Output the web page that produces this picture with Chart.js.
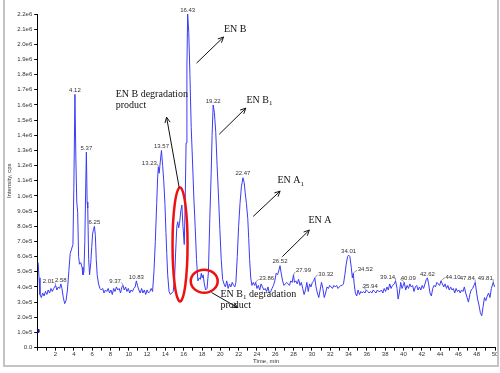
<!DOCTYPE html>
<html>
<head>
<meta charset="UTF-8">
<title>Chromatogram</title>
<script src="https://cdn.jsdelivr.net/npm/chart.js"></script>
<style>
  html, body { margin: 0; padding: 0; background: #fff; }
  canvas { display: block; }
</style>
</head>
<body>
<canvas id="chrom" width="500" height="373"></canvas>
<script>
// retention time (min) and intensity (x1e5 cps)
const times = [
  0.10, 0.20, 0.30, 0.45, 0.60, 0.75, 0.90, 1.05, 1.20, 1.35,
  1.50, 1.65, 1.80, 2.01, 2.15, 2.30, 2.45, 2.58, 2.70, 2.85,
  3.00, 3.15, 3.30, 3.45, 3.60, 3.75, 3.90, 4.00, 4.12, 4.22,
  4.32, 4.42, 4.52, 4.62, 4.75, 4.90, 5.00, 5.10, 5.20, 5.28,
  5.37, 5.45, 5.52, 5.62, 5.72, 5.85, 5.95, 6.05, 6.15, 6.25,
  6.35, 6.45, 6.55, 6.70, 6.85, 7.00, 7.15, 7.30, 7.45, 7.60,
  7.75, 7.90, 8.05, 8.20, 8.35, 8.50, 8.65, 8.80, 8.95, 9.10,
  9.25, 9.37, 9.50, 9.65, 9.80, 9.95, 10.10, 10.25, 10.40, 10.55,
  10.70, 10.83, 10.95, 11.10, 11.25, 11.40, 11.55, 11.70, 11.85, 12.00,
  12.15, 12.30, 12.45, 12.60, 12.75, 12.90, 13.05, 13.15, 13.23, 13.32,
  13.45, 13.57, 13.70, 13.82, 13.95, 14.06, 14.15, 14.25, 14.40, 14.55,
  14.70, 14.85, 15.00, 15.12, 15.25, 15.35, 15.45, 15.55, 15.68, 15.80,
  15.92, 16.06, 16.16, 16.26, 16.35, 16.43, 16.55, 16.68, 16.82, 16.95,
  17.10, 17.25, 17.40, 17.55, 17.70, 17.82, 17.92, 18.02, 18.12, 18.25,
  18.40, 18.55, 18.70, 18.85, 19.00, 19.10, 19.22, 19.35, 19.50, 19.65,
  19.80, 19.95, 20.10, 20.25, 20.40, 20.55, 20.70, 20.85, 21.00, 21.15,
  21.30, 21.45, 21.58, 21.70, 21.85, 22.00, 22.15, 22.30, 22.47, 22.60,
  22.72, 22.85, 23.00, 23.10, 23.20, 23.32, 23.45, 23.60, 23.75, 23.86,
  24.00, 24.15, 24.30, 24.45, 24.60, 24.75, 24.90, 25.05, 25.20, 25.35,
  25.50, 25.65, 25.80, 25.95, 26.10, 26.25, 26.40, 26.52, 26.65, 26.80,
  26.95, 27.10, 27.25, 27.40, 27.55, 27.70, 27.85, 27.99, 28.10, 28.25,
  28.40, 28.55, 28.70, 28.85, 29.00, 29.15, 29.30, 29.45, 29.60, 29.75,
  29.90, 30.05, 30.20, 30.32, 30.45, 30.60, 30.75, 30.90, 31.05, 31.20,
  31.35, 31.50, 31.65, 31.80, 31.95, 32.10, 32.25, 32.40, 32.55, 32.70,
  32.85, 33.00, 33.15, 33.30, 33.45, 33.60, 33.75, 33.90, 34.01, 34.15,
  34.30, 34.42, 34.52, 34.62, 34.75, 34.90, 35.05, 35.20, 35.35, 35.50,
  35.65, 35.80, 35.94, 36.10, 36.25, 36.40, 36.55, 36.70, 36.85, 37.00,
  37.15, 37.30, 37.45, 37.60, 37.75, 37.90, 38.05, 38.20, 38.35, 38.50,
  38.65, 38.80, 39.00, 39.14, 39.30, 39.42, 39.55, 39.70, 39.85, 40.09,
  40.25, 40.40, 40.55, 40.70, 40.85, 41.00, 41.15, 41.30, 41.45, 41.60,
  41.75, 41.90, 42.05, 42.20, 42.35, 42.50, 42.62, 42.75, 42.90, 43.05,
  43.20, 43.35, 43.50, 43.65, 43.80, 43.95, 44.10, 44.25, 44.40, 44.55,
  44.70, 44.85, 45.00, 45.15, 45.30, 45.45, 45.60, 45.75, 45.90, 46.05,
  46.20, 46.35, 46.50, 46.65, 46.80, 46.95, 47.10, 47.25, 47.40, 47.55,
  47.70, 47.84, 47.95, 48.10, 48.25, 48.40, 48.55, 48.70, 48.85, 49.00,
  49.15, 49.30, 49.45, 49.60, 49.81, 49.95
];
const intensityE5 = [
  5.6, 4.6, 3.5, 3.3, 3.6, 3.4, 3.7, 3.5, 3.8, 3.6,
  3.9, 3.7, 3.9, 4.1, 3.8, 4.0, 3.9, 4.2, 3.9, 3.3,
  2.9, 3.1, 3.8, 5.0, 6.2, 6.5, 6.8, 10.5, 16.7, 12.5,
  9.6, 8.9, 6.0, 5.5, 5.6, 5.3, 4.8, 5.0, 7.0, 10.0,
  12.9, 9.6, 9.2, 5.8, 4.8, 5.6, 6.6, 7.5, 7.8, 8.0,
  7.4, 5.8, 4.8, 4.2, 3.9, 3.8, 3.9, 3.6, 3.8, 3.7,
  3.9, 3.6, 3.8, 3.5, 3.9, 3.7, 4.0, 3.8, 3.9, 3.6,
  4.0, 4.1, 3.8, 4.0, 3.7, 3.9, 3.6, 3.8, 3.7, 3.9,
  4.0, 4.4, 4.1, 3.8, 3.6, 3.9, 3.6, 3.8, 3.5, 3.8,
  3.6, 3.7, 3.9, 3.7, 5.0, 7.0, 9.5, 11.2, 11.9, 11.5,
  12.3, 13.0, 12.0, 11.0, 9.5, 7.6, 6.2, 4.8, 3.7, 3.5,
  3.6, 3.7, 4.5, 6.3, 8.0, 8.3, 7.9, 8.2, 9.0, 9.4,
  8.0, 6.8, 9.5, 13.5, 18.5, 22.0, 20.8, 18.0, 14.5, 12.5,
  10.0, 8.0, 5.8, 4.4, 4.6, 4.5, 4.9, 4.6, 4.8, 4.2,
  3.8, 3.9, 5.0, 8.5, 11.5, 14.0, 16.0, 15.5, 14.2, 12.0,
  10.0, 7.8, 5.8, 4.5, 4.2, 4.0, 4.4, 3.9, 4.2, 4.0,
  4.3, 4.1, 4.0, 4.3, 6.0, 8.0, 9.5, 10.6, 11.2, 10.9,
  10.2, 9.5, 8.5, 7.2, 5.8, 4.6, 4.1, 4.3, 4.1, 4.3,
  3.9, 4.1, 3.8, 4.2, 4.0, 3.8, 3.9, 3.7, 4.0, 3.6,
  3.7, 3.9, 4.1, 4.4, 4.9, 4.8, 5.1, 5.4, 4.9, 4.4,
  4.1, 4.2, 4.3, 4.2, 4.1, 4.4, 4.3, 4.8, 4.3, 4.4,
  4.2, 4.5, 4.1, 4.3, 3.9, 3.5, 3.8, 4.3, 3.7, 4.2,
  4.0, 4.3, 4.4, 4.6, 4.0, 3.6, 3.3, 3.8, 4.3, 3.9,
  3.3, 3.6, 4.0, 3.9, 4.1, 4.0, 3.9, 4.1, 4.0, 4.1,
  3.9, 4.0, 4.1, 4.1, 4.2, 4.8, 5.5, 6.0, 6.1, 6.0,
  5.3, 4.6, 4.9, 4.2, 3.6, 3.4, 3.8, 3.5, 3.7, 3.6,
  3.7, 3.6, 3.8, 3.7, 3.6, 3.7, 3.6, 3.8, 3.7, 3.6,
  3.8, 3.7, 3.7, 3.8, 3.6, 3.9, 3.7, 4.0, 3.8, 4.2,
  3.9, 4.1, 4.2, 4.4, 3.9, 3.2, 3.6, 4.3, 3.9, 4.3,
  3.8, 4.1, 3.9, 4.2, 4.0, 4.1, 3.7, 4.0, 4.1, 3.8,
  4.0, 3.8, 4.1, 3.9, 4.2, 4.5, 4.6, 4.2, 3.6, 3.4,
  3.9, 4.1, 4.0, 4.3, 4.2, 4.1, 4.4, 4.2, 4.0, 4.2,
  3.9, 4.1, 3.8, 4.0, 3.8, 3.9, 3.6, 3.9, 3.7, 3.8,
  3.6, 3.8, 3.7, 4.0, 3.6, 3.3, 3.0, 3.5, 3.8, 3.9,
  4.1, 4.3, 3.8, 3.2, 2.8, 2.3, 2.1, 2.7, 3.3, 3.1,
  3.4, 3.6, 3.3, 3.9, 4.3, 4.0
];

// labelled peaks (retention times printed above the trace)
const peakTimes = [2.01, 2.58, 4.12, 5.37, 6.25, 9.37, 10.83, 13.23, 13.57, 16.43,
  19.22, 22.47, 23.86, 26.52, 27.99, 30.32, 34.01, 34.52, 35.94, 39.14,
  40.09, 42.62, 44.10, 47.84, 49.81];
// horizontal label offset in px (non-zero ones get a little leader)
const labelShift = [-7, 0, 0, 0, 0, -8, 0, -9, 0, 0,
  0, 0, 11, 0, 10, 11, 0, 12, 4, -8,
  4, 0, 12, -8, -8];

// the small marker sitting on the y axis
const markerPoint = [{ x: 0.05, y: 1.1e5 }];

// annotations: text, arrows (tail -> head) and rings, in data units
const notes = [
  { lines: ['EN B degradation', 'product'], t: 8.57, v: 1.67e6, sub: null },
  { lines: ['EN B'], t: 20.4, v: 2.10e6, sub: null },
  { lines: ['EN B'], t: 22.86, v: 1.63e6, sub: '1' },
  { lines: ['EN A'], t: 26.24, v: 1.10e6, sub: '1' },
  { lines: ['EN A'], t: 29.62, v: 8.39e5, sub: null },
  { lines: ['EN B', 'product'], t: 20.02, v: 3.5e5, sub: '1', tail: ' degradation' }
];
const arrows = [
  [15.5, 1.057e6, 14.13, 1.519e6],
  [17.4, 1.876e6, 20.35, 2.048e6],
  [19.88, 1.407e6, 22.78, 1.579e6],
  [23.59, 8.65e5, 26.53, 1.032e6],
  [26.78, 6.0e5, 29.72, 7.75e5],
  [19.04, 3.63e5, 21.88, 2.64e5]
];
const rings = [
  { t: 15.6, v: 6.8e5, dt: 0.82, dv: 3.76e5 },
  { t: 18.24, v: 4.38e5, dt: 1.47, dv: 7.6e4 }
];

const series = times.map((t, i) => ({ x: t, y: intensityE5[i] * 1e5 }));

const frame = {
  id: 'frame',
  afterDraw(chart) {
    const ctx = chart.ctx;
    ctx.save();
    ctx.strokeStyle = '#c4c4c4';
    ctx.lineWidth = 2;
    ctx.beginPath();
    ctx.moveTo(4, 0); ctx.lineTo(4, 366); ctx.lineTo(498, 366); ctx.lineTo(498, 0);
    ctx.stroke();
    ctx.restore();
  }
};

function arrow(ctx, x1, y1, x2, y2) {
  const a = Math.atan2(y2 - y1, x2 - x1), h = 6;
  ctx.beginPath();
  ctx.moveTo(x1, y1); ctx.lineTo(x2, y2);
  ctx.moveTo(x2 - h * Math.cos(a - 0.45), y2 - h * Math.sin(a - 0.45));
  ctx.lineTo(x2, y2);
  ctx.lineTo(x2 - h * Math.cos(a + 0.45), y2 - h * Math.sin(a + 0.45));
  ctx.stroke();
}

const decor = {
  id: 'decor',
  afterDatasetsDraw(chart) {
    const { ctx, scales: { x, y } } = chart;
    ctx.save();
    // peak labels
    ctx.font = '6px "Liberation Sans", Arial, sans-serif';
    ctx.fillStyle = '#333';
    ctx.strokeStyle = '#555';
    ctx.lineWidth = 0.6;
    ctx.textAlign = 'center';
    ctx.textBaseline = 'bottom';
    peakTimes.forEach((t, i) => {
      const idx = times.indexOf(t);
      const px = x.getPixelForValue(t);
      const py = y.getPixelForValue(intensityE5[idx] * 1e5);
      const lx = px + labelShift[i], ly = py - 1;
      const txt = t.toFixed(2);
      ctx.fillText(txt, lx, ly);
      if (labelShift[i]) {
        const w = ctx.measureText(txt).width / 2;
        const sx = labelShift[i] < 0 ? lx + w + 0.5 : lx - w - 0.5;
        ctx.beginPath();
        ctx.moveTo(sx, ly - 2);
        ctx.lineTo((sx + px) / 2, ly - 1);
        ctx.lineTo(px, py);
        ctx.stroke();
      }
    });

    // rings
    ctx.strokeStyle = '#ee1111';
    ctx.lineWidth = 2.5;
    rings.forEach(r => {
      const cx = x.getPixelForValue(r.t), cy = y.getPixelForValue(r.v);
      const rx = x.getPixelForValue(r.t + r.dt) - cx;
      const ry = cy - y.getPixelForValue(r.v + r.dv);
      ctx.beginPath();
      ctx.ellipse(cx, cy, rx, ry, 0, 0, Math.PI * 2);
      ctx.stroke();
    });

    // arrows
    ctx.strokeStyle = '#111';
    ctx.lineWidth = 1;
    arrows.forEach(a => arrow(ctx,
      x.getPixelForValue(a[0]), y.getPixelForValue(a[1]),
      x.getPixelForValue(a[2]), y.getPixelForValue(a[3])));

    // annotation text
    ctx.fillStyle = '#111';
    ctx.textAlign = 'left';
    ctx.textBaseline = 'middle';
    notes.forEach(n => {
      const nx = x.getPixelForValue(n.t);
      let ny = y.getPixelForValue(n.v);
      n.lines.forEach((line, k) => {
        ctx.font = '10px "Liberation Serif", "Times New Roman", serif';
        let cx = nx;
        ctx.fillText(line, cx, ny);
        if (k === 0 && n.sub) {
          cx += ctx.measureText(line).width;
          ctx.font = '7px "Liberation Serif", "Times New Roman", serif';
          ctx.fillText(n.sub, cx, ny + 3);
          cx += ctx.measureText(n.sub).width;
          if (n.tail) {
            ctx.font = '10px "Liberation Serif", "Times New Roman", serif';
            ctx.fillText(n.tail, cx, ny);
          }
        }
        ny += 11;
      });
    });
    ctx.restore();
  }
};

const tickFont = { family: '"Liberation Sans", Arial, sans-serif', size: 6 };

new Chart(document.getElementById('chrom'), {
  type: 'line',
  data: {
    datasets: [
      {
        data: series,
        borderColor: '#3b3bf5',
        borderWidth: 1,
        pointRadius: 0,
        tension: 0
      },
      {
        data: markerPoint,
        showLine: false,
        pointStyle: 'rect',
        pointRadius: 2,
        backgroundColor: '#10109a',
        borderColor: '#10109a'
      }
    ]
  },
  options: {
    responsive: false,
    animation: false,
    events: [],
    layout: { padding: { left: 4, right: 4, top: 14, bottom: 8 } },
    plugins: { legend: { display: false }, tooltip: { enabled: false } },
    scales: {
      x: {
        type: 'linear',
        min: 0,
        max: 50,
        border: { display: true, color: '#000', width: 1 },
        grid: { drawOnChartArea: false, tickLength: 3, color: '#000' },
        ticks: {
          stepSize: 1,
          autoSkip: false,
          maxRotation: 0,
          padding: 0,
          color: '#333',
          font: tickFont,
          callback: v => (v % 2 === 0 && v > 0) ? String(v) : ''
        },
        title: { display: true, text: 'Time, min', color: '#333', font: tickFont, padding: 0 }
      },
      y: {
        min: 0,
        max: 2.2e6,
        border: { display: true, color: '#000', width: 1 },
        grid: { drawOnChartArea: false, tickLength: 3, color: '#000' },
        ticks: {
          stepSize: 1e5,
          autoSkip: false,
          padding: 2,
          color: '#333',
          font: tickFont,
          callback: v => v === 0 ? '0.0' : Number(v).toExponential(1).replace('+', '')
        },
        title: { display: true, text: 'Intensity, cps', color: '#333', font: tickFont, padding: 2 }
      }
    }
  },
  plugins: [frame, decor]
});
</script>
</body>
</html>
